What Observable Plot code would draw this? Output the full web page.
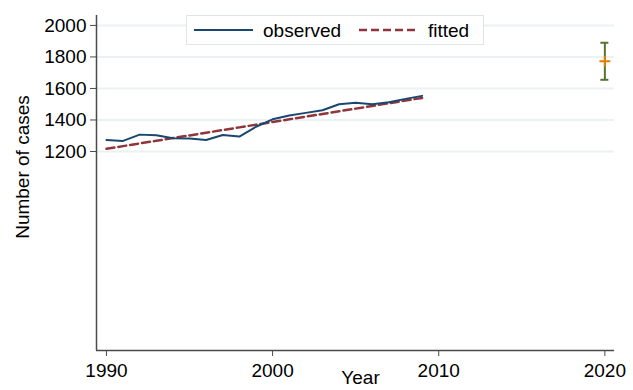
<!DOCTYPE html>
<html>
<head>
<meta charset="utf-8">
<script src="https://cdn.jsdelivr.net/npm/d3@7"></script>
<script src="https://cdn.jsdelivr.net/npm/@observablehq/plot@0.6"></script>
<style>
  html, body { margin: 0; padding: 0; background: #fff; }
  #wrap { position: relative; width: 633px; height: 390px; overflow: hidden; font-family: "Liberation Sans", Arial, Helvetica, sans-serif; }
  #legend { position: absolute; left: 186px; top: 15px; width: 296px; height: 28px; border: 1px solid #dde6e6; background: #fff; box-sizing: content-box; }
</style>
</head>
<body>
<div id="wrap"><div id="chart"></div><div id="legend"></div></div>
<script>
// ---- data ----
const years    = [1990,1991,1992,1993,1994,1995,1996,1997,1998,1999,2000,2001,2002,2003,2004,2005,2006,2007,2008,2009];
const observed = [1273,1267,1307,1303,1284,1282,1273,1305,1295,1357,1404,1428,1445,1462,1500,1509,1500,1513,1534,1553];
const fitted   = [1217,1234,1251,1268,1285,1302,1319,1336,1353,1370,1387,1404,1421,1438,1455,1472,1489,1506,1523,1540];
const forecastYear = [2020];
const forecastEst  = [1773];
const forecastLo   = [1655];
const forecastHi   = [1890];
const yTicks = [1200, 1400, 1600, 1800, 2000];
const xTicks = [1990, 2000, 2010, 2020];
const seriesNames = ["observed", "fitted"];
const xTitle = "Year";
const yTitle = "Number of cases";

// ---- tables ----
const obsRows = years.map((y, i) => ({year: y, value: observed[i]}));
const fitRows = years.map((y, i) => ({year: y, value: fitted[i]}));
const fcRows = forecastYear.map((y, i) => ({year: y, est: forecastEst[i], lo: forecastLo[i], hi: forecastHi[i]}));

const navy = "#1a476f", maroon = "#90353b", green = "#55752f", orange = "#e37e00";
const grid = "#eaf2f3", axisCol = "#4a4a4a";
const xDomain = [1989.4, 2020.58];
const yDomain = [-63, 2063];

const plot = Plot.plot({
  width: 633,
  height: 390,
  marginLeft: 96,
  marginRight: 19,
  marginTop: 15,
  marginBottom: 40,
  style: {fontFamily: "'Liberation Sans', Arial, Helvetica, sans-serif", fontSize: "19px", background: "#fff", color: "#000", overflow: "visible"},
  x: {domain: xDomain},
  y: {domain: yDomain},
  marks: [
    Plot.ruleY(yTicks, {stroke: grid, strokeWidth: 2}),
    Plot.line(fitRows, {x: "year", y: "value", stroke: maroon, strokeWidth: 2.5, strokeDasharray: "8,4"}),
    Plot.line(obsRows, {x: "year", y: "value", stroke: navy, strokeWidth: 2}),
    Plot.ruleX(fcRows, {x: "year", y1: "lo", y2: "hi", stroke: green, strokeWidth: 2}),
    Plot.ruleY(fcRows, {y: "lo", x1: "year", x2: "year", insetLeft: -4, insetRight: -4, stroke: green, strokeWidth: 2}),
    Plot.ruleY(fcRows, {y: "hi", x1: "year", x2: "year", insetLeft: -4, insetRight: -4, stroke: green, strokeWidth: 2}),
    Plot.dot(fcRows, {x: "year", y: "est", symbol: "plus", r: 3.6, stroke: orange, strokeWidth: 2}),
    Plot.axisY(yTicks, {tickSize: 6, tickPadding: 4, tickFormat: "d", label: null, stroke: axisCol, fill: "#000", fontSize: 19}),
    Plot.axisX(xTicks, {tickSize: 6, tickPadding: 7, tickFormat: "d", label: null, stroke: axisCol, fill: "#000", fontSize: 19}),
    Plot.ruleX([xDomain[0]], {stroke: axisCol, strokeWidth: 1.5}),
    Plot.ruleY([yDomain[0]], {stroke: axisCol, strokeWidth: 1.5}),
    Plot.text([yTitle], {frameAnchor: "left", text: d => d, rotate: -90, textAnchor: "middle", dx: -74, dy: -16, fontSize: 19, fill: "#000"}),
    Plot.text([xTitle], {frameAnchor: "bottom", text: d => d, textAnchor: "middle", lineAnchor: "top", dx: 5, dy: 20, fontSize: 19, fill: "#000"})
  ]
});
document.getElementById("chart").appendChild(plot);

// ---- legend ----
const leg = d3.select("#legend").append("svg").attr("width", 296).attr("height", 28)
  .style("font-family", "'Liberation Sans', Arial, Helvetica, sans-serif").style("font-size", "19px");
const items = [
  {name: seriesNames[0], color: navy, dash: null, x0: 7, x1: 66, tx: 76},
  {name: seriesNames[1], color: maroon, dash: "8,4", x0: 172, x1: 232, tx: 241}
];
items.forEach(it => {
  leg.append("line").attr("x1", it.x0).attr("x2", it.x1).attr("y1", 14).attr("y2", 14)
    .attr("stroke", it.color).attr("stroke-width", it.dash ? 2.5 : 2).attr("stroke-dasharray", it.dash);
  leg.append("text").attr("x", it.tx).attr("y", 14).attr("dy", "0.35em").attr("fill", "#000").text(it.name);
});
</script>
</body>
</html>
